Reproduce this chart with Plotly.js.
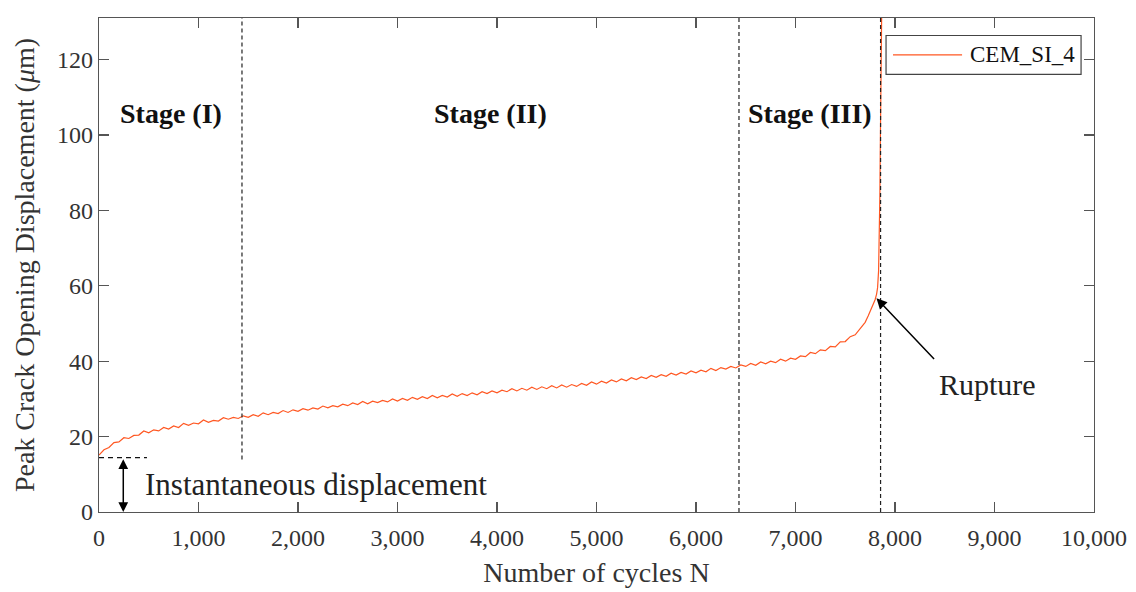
<!DOCTYPE html>
<html>
<head>
<meta charset="utf-8">
<script src="https://cdn.plot.ly/plotly-3.0.1.min.js"></script>
<style>
html,body{margin:0;padding:0;background:#fff;}
#chart{width:1136px;height:592px;}
</style>
</head>
<body>
<div id="chart"></div>
<script>
// ---- data ----
const cycles = [0,50,100,150,200,250,300,350,400,450,500,550,600,650,700,750,800,850,900,950,
1000,1050,1100,1150,1200,1250,1300,1350,1400,1450,1500,1550,1600,1650,1700,1750,1800,1850,1900,1950,
2000,2050,2100,2150,2200,2250,2300,2350,2400,2450,2500,2550,2600,2650,2700,2750,2800,2850,2900,2950,
3000,3050,3100,3150,3200,3250,3300,3350,3400,3450,3500,3550,3600,3650,3700,3750,3800,3850,3900,3950,
4000,4050,4100,4150,4200,4250,4300,4350,4400,4450,4500,4550,4600,4650,4700,4750,4800,4850,4900,4950,
5000,5050,5100,5150,5200,5250,5300,5350,5400,5450,5500,5550,5600,5650,5700,5750,5800,5850,5900,5950,
6000,6050,6100,6150,6200,6250,6300,6350,6400,6450,6500,6550,6600,6650,6700,6750,6800,6850,6900,6950,
7000,7050,7100,7150,7200,7250,7300,7350,7400,7450,7500,7550,7600,7650,7700,
7730,7760,7782,7800,7815,7825,7835,7842,7848,7852,7857,7861,7866];
const displacement = [15.1,16.5,17.1,18.4,18.6,19.7,19.5,20.3,20.4,21.5,21.0,21.8,21.5,22.4,22.0,22.8,22.4,23.5,23.0,23.6,
23.4,24.4,23.8,24.3,24.1,25.0,24.6,25.1,24.8,25.5,25.1,25.8,25.4,26.3,25.8,26.4,26.1,26.9,26.4,27.1,
26.7,27.4,27.0,27.6,27.3,28.1,27.6,28.2,27.9,28.6,28.2,28.9,28.5,29.3,28.7,29.4,29.0,29.6,29.2,30.0,
29.4,30.1,29.6,30.4,29.9,30.6,30.1,30.9,30.3,30.9,30.5,31.3,30.7,31.4,30.9,31.6,31.1,31.9,31.4,32.1,
31.6,32.3,31.9,32.7,32.1,32.8,32.3,33.1,32.5,33.2,32.7,33.5,32.9,33.7,33.1,33.8,33.3,34.1,33.6,34.5,
33.9,34.7,34.2,35.0,34.5,35.3,34.8,35.6,35.1,35.8,35.4,36.2,35.7,36.4,36.0,36.8,36.3,37.0,36.6,37.4,
36.9,37.6,37.2,38.1,37.5,38.3,37.9,38.6,38.2,39.0,38.6,39.4,38.9,39.8,39.3,40.0,39.6,40.5,40.0,40.8,
40.5,41.4,41.2,42.3,42.0,43.0,42.8,43.9,43.8,45.1,45.2,46.5,47.0,48.7,50.3,
52.0,53.8,55.3,56.3,57.8,59.5,64,72,84,96,110,122,132];
const seriesName = 'CEM_SI_4';
const stageBounds = [1437, 6432, 7855];
const stageLabels = ['<b>Stage (I)</b>', '<b>Stage (II)</b>', '<b>Stage (III)</b>'];
const stageLabelX = [722, 3930, 7144];
const stageLabelY = 105.7;
const instantDisp = 14.4;
const ruptureAt = [7814, 56.7];
const xTicks = [0,1000,2000,3000,4000,5000,6000,7000,8000,9000,10000];
const yTicks = [0,20,40,60,80,100,120];

const FONT = 'Liberation Serif, Times New Roman, serif';
const TXT = '#222';
const lineColor = '#ff5722';

const trace = {
  x: cycles, y: displacement, type: 'scatter', mode: 'lines', name: seriesName,
  line: {color: lineColor, width: 1.2}, showlegend:false
};

const dashStyle = '4px,3px';
const dashColor = '#222';
const shapes = [
  {type:'line', xref:'x', yref:'y', x0:stageBounds[0], x1:stageBounds[0], y0:13.9, y1:131,
   line:{color:dashColor, width:1.2, dash:dashStyle}},
  {type:'line', xref:'x', yref:'y', x0:stageBounds[1], x1:stageBounds[1], y0:0, y1:131,
   line:{color:dashColor, width:1.2, dash:dashStyle}},
  {type:'line', xref:'x', yref:'y', x0:stageBounds[2], x1:stageBounds[2], y0:0, y1:131,
   line:{color:dashColor, width:1.2, dash:dashStyle}},
  {type:'line', xref:'x', yref:'y', x0:0, x1:482, y0:instantDisp, y1:instantDisp,
   line:{color:'#111', width:1.2, dash:'5px,4px'}},
  // legend box (drawn in paper space)
  {type:'rect', xref:'paper', yref:'paper', x0:0.791, x1:0.987, y0:0.886, y1:0.9646,
   fillcolor:'#fff', line:{color:'#444', width:1.2}},
  {type:'line', xref:'paper', yref:'paper', x0:0.798, x1:0.8674, y0:0.9253, y1:0.9253,
   line:{color:lineColor, width:1.2}}
];

const annotations = stageLabels.map((t,i)=>({
  x: stageLabelX[i], y: stageLabelY, xref:'x', yref:'y', text:t, showarrow:false,
  font:{family:FONT, size:28, color:'#111'}
}));
annotations.push(
  {x:441, y:7.3, xref:'x', yref:'y', text:'Instantaneous displacement', showarrow:false,
   xanchor:'left', font:{family:FONT, size:31, color:TXT}},
  {x:244, y:0, ax:244, ay:instantDisp, xref:'x', yref:'y', axref:'x', ayref:'y', text:'',
   showarrow:true, arrowhead:2, startarrowhead:2, arrowside:'end+start', arrowsize:1.3, arrowwidth:1.5,
   arrowcolor:'#000', standoff:0, startstandoff:0},
  {x:ruptureAt[0], y:ruptureAt[1], ax:8407, ay:40.2, xref:'x', yref:'y', axref:'x', ayref:'y', text:'',
   showarrow:true, arrowhead:2, arrowsize:1.4, arrowwidth:1.5, arrowcolor:'#000', standoff:0},
  {x:8925, y:33.8, xref:'x', yref:'y', text:'Rupture', showarrow:false,
   font:{family:FONT, size:30, color:TXT}},
  {x:0.8733, y:0.9253, xref:'paper', yref:'paper', text:seriesName, showarrow:false,
   xanchor:'left', yanchor:'middle', font:{family:FONT, size:23, color:'#111'}}
);

const axisCommon = {
  showline:true, linecolor:'#555', linewidth:1.2, mirror:'ticks',
  ticks:'inside', ticklen:10, tickwidth:1.2, tickcolor:'#555',
  showgrid:false, zeroline:false,
  tickfont:{family:FONT, size:24, color:'#333'}
};

const layout = {
  width:1136, height:592,
  margin:{l:99, r:42, t:18, b:80},
  paper_bgcolor:'#fff', plot_bgcolor:'#fff',
  font:{family:FONT, color:TXT},
  showlegend:false,
  xaxis: Object.assign({}, axisCommon, {
    range:[0,10000], tickvals:xTicks, tickformat:',d', ticklabelstandoff:4,
    title:{text:'Number of cycles N', font:{family:FONT, size:28, color:'#333'}, standoff:12}
  }),
  yaxis: Object.assign({}, axisCommon, {
    range:[0,131], tickvals:yTicks,
    title:{text:'Peak Crack Opening Displacement (<i>μ</i>m)', font:{family:FONT, size:28, color:'#333'}, standoff:14}
  }),
  shapes: shapes,
  annotations: annotations
};

Plotly.newPlot('chart', [trace], layout, {displayModeBar:false, staticPlot:true});
</script>
</body>
</html>
